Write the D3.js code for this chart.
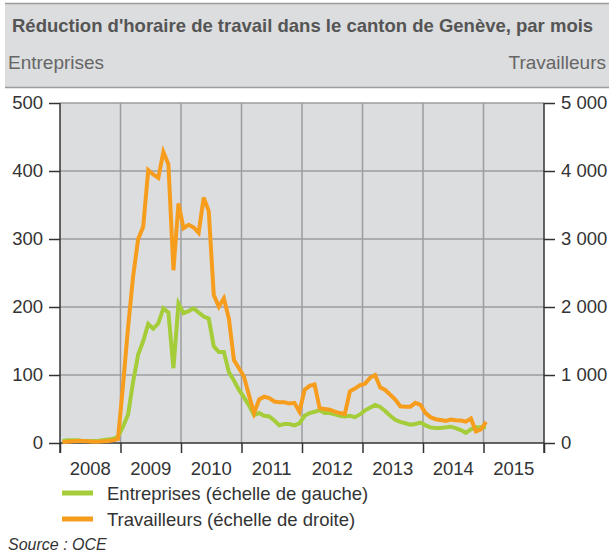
<!DOCTYPE html>
<html lang="fr">
<head>
<meta charset="utf-8">
<script src="https://cdnjs.cloudflare.com/ajax/libs/d3/7.8.5/d3.min.js"></script>
<style>
body { margin: 0; background: #fff; }
svg { display: block; font-family: "Liberation Sans", Arial, sans-serif; }
</style>
</head>
<body>
<script>
// monthly values, Jan 2008 .. Jan 2015
var entreprises = [
  3, 4, 4, 4, 3, 3, 3, 3, 4, 5, 6, 9,
  24, 42, 90, 130, 150, 175, 168, 176, 198, 192, 110, 205,
  191, 194, 198, 192, 186, 183, 142, 134, 134, 104, 92, 78,
  67, 55, 41, 44, 40, 39, 33, 26, 28, 28, 26, 29,
  40, 44, 46, 48, 44, 44, 42, 40, 39, 40, 38, 42,
  48, 52, 56, 53, 47, 40, 34, 31, 29, 27, 28, 30,
  26, 23, 22, 22, 23, 24, 22, 19, 15, 20, 23, 23,
  23
]
var travailleurs = [
  10, 20, 25, 30, 30, 25, 20, 20, 25, 30, 40, 60,
  850, 1700, 2450, 3000, 3180, 4015, 3950, 3900, 4280, 4100, 2540, 3525,
  3160, 3210, 3170, 3090, 3610, 3410, 2176, 2005, 2128, 1830, 1220, 1100,
  975, 700, 440, 640, 680, 660, 610, 600, 600, 580, 590, 460,
  780, 840, 860, 510, 500, 490, 460, 440, 426, 760, 800, 850,
  870, 960, 1000, 820, 780, 710, 640, 540, 534, 534, 590, 560,
  440, 380, 350, 338, 323, 345, 335, 330, 314, 360, 170, 200,
  310
]
var years = [2008, 2009, 2010, 2011, 2012, 2013, 2014, 2015]
var leftTicks = [0, 100, 200, 300, 400, 500]
var rightTicks = [0, 1000, 2000, 3000, 4000, 5000]
var legendLabels = ["Entreprises (échelle de gauche)", "Travailleurs (échelle de droite)"]

var W = 609, H = 557
var green = "#a4cd39", orange = "#f79d1e"

var svg = d3.select("body").append("svg").attr("width", W).attr("height", H)

// header
svg.append("rect").attr("x", 5).attr("y", 3).attr("width", W - 5).attr("height", 85).attr("fill", "#dcdddf")
svg.append("line").attr("x1", 5).attr("x2", W).attr("y1", 3.5).attr("y2", 3.5).attr("stroke", "#9c9c9c").attr("stroke-width", 1.5)
svg.append("line").attr("x1", 5).attr("x2", W).attr("y1", 87.5).attr("y2", 87.5).attr("stroke", "#9c9c9c").attr("stroke-width", 1.5)
svg.append("text").attr("x", 12).attr("y", 32)
  .attr("font-size", 18.5).attr("font-weight", "bold").attr("fill", "#555")
  .text("Réduction d'horaire de travail dans le canton de Genève, par mois")
svg.append("text").attr("x", 8).attr("y", 69).attr("font-size", 19).attr("fill", "#666").text("Entreprises")
svg.append("text").attr("x", 606).attr("y", 69).attr("font-size", 19).attr("fill", "#666")
  .attr("text-anchor", "end").text("Travailleurs")

var x = d3.scaleLinear().domain([2008, 2016]).range([60, 544])
var yL = d3.scaleLinear().domain([0, 500]).range([443, 103])
var yR = d3.scaleLinear().domain([0, 5000]).range([443, 103])

// plot background
svg.append("rect").attr("x", x(2008)).attr("y", yL(500))
  .attr("width", x(2016) - x(2008)).attr("height", yL(0) - yL(500)).attr("fill", "#dcdddf")

// grid
svg.append("g").selectAll("line").data(leftTicks.slice(1)).enter().append("line")
  .attr("x1", x(2008)).attr("x2", x(2016))
  .attr("y1", function(d) { return yL(d) }).attr("y2", function(d) { return yL(d) })
  .attr("stroke", "#9d9d9f").attr("stroke-width", 1.5)
svg.append("g").selectAll("line").data(years.slice(1)).enter().append("line")
  .attr("x1", function(d) { return x(d) }).attr("x2", function(d) { return x(d) })
  .attr("y1", yL(500)).attr("y2", yL(0))
  .attr("stroke", "#9d9d9f").attr("stroke-width", 1.5)

function styleAxis(g) {
  g.select(".domain").remove()
  g.selectAll(".tick line").attr("stroke", "#333").attr("stroke-width", 1.5)
  g.selectAll(".tick text").attr("fill", "#333").attr("font-size", 18.5)
    .attr("font-family", "Liberation Sans, Arial, sans-serif")
}

var axL = svg.append("g").attr("transform", "translate(" + x(2008) + ",0)")
  .call(d3.axisLeft(yL).tickValues(leftTicks).tickSize(11).tickPadding(6))
styleAxis(axL)

var fmt = function(d) { return d3.format(",")(d).replace(",", " ") }
var axR = svg.append("g").attr("transform", "translate(" + x(2016) + ",0)")
  .call(d3.axisRight(yR).tickValues(rightTicks).tickSize(11).tickPadding(6).tickFormat(fmt))
styleAxis(axR)

var axB = svg.append("g").attr("transform", "translate(0," + yL(0) + ")")
  .call(d3.axisBottom(x).tickValues(years.concat([2016])).tickSize(10).tickFormat(""))
styleAxis(axB)

svg.append("g").selectAll("text").data(years).enter().append("text")
  .attr("x", function(d) { return x(d + 0.5) }).attr("y", 475)
  .attr("text-anchor", "middle").attr("font-size", 18.5).attr("fill", "#333")
  .text(function(d) { return d })

// axis lines
svg.append("line").attr("x1", x(2008)).attr("x2", x(2008)).attr("y1", yL(500)).attr("y2", yL(0) + 10)
  .attr("stroke", "#333").attr("stroke-width", 1.5)
svg.append("line").attr("x1", x(2016)).attr("x2", x(2016)).attr("y1", yL(500)).attr("y2", yL(0) + 10)
  .attr("stroke", "#333").attr("stroke-width", 1.5)
svg.append("line").attr("x1", x(2008)).attr("x2", x(2016)).attr("y1", yL(0)).attr("y2", yL(0))
  .attr("stroke", "#333").attr("stroke-width", 1.5)

// series
function mx(i) { return x(2008 + (i + 0.5) / 12) }
var lineL = d3.line().x(function(d, i) { return mx(i) }).y(function(d) { return yL(d) })
var lineR = d3.line().x(function(d, i) { return mx(i) }).y(function(d) { return yR(d) })

svg.append("path").datum(entreprises).attr("d", lineL)
  .attr("fill", "none").attr("stroke", green).attr("stroke-width", 4)
svg.append("path").datum(travailleurs).attr("d", lineR)
  .attr("fill", "none").attr("stroke", orange).attr("stroke-width", 4)

// legend
var leg = svg.append("g").selectAll("g").data(legendLabels).enter().append("g")
  .attr("transform", function(d, i) { return "translate(0," + (493 + i * 26) + ")" })
leg.append("line").attr("x1", 62).attr("x2", 93).attr("y1", 0).attr("y2", 0)
  .attr("stroke", function(d, i) { return i == 0 ? green : orange }).attr("stroke-width", 5)
leg.append("text").attr("x", 107).attr("y", 6.5).attr("font-size", 18.5).attr("fill", "#333")
  .text(function(d) { return d })

svg.append("text").attr("x", 8).attr("y", 550).attr("font-size", 16).attr("font-style", "italic")
  .attr("fill", "#333").text("Source : OCE")
</script>
</body>
</html>
